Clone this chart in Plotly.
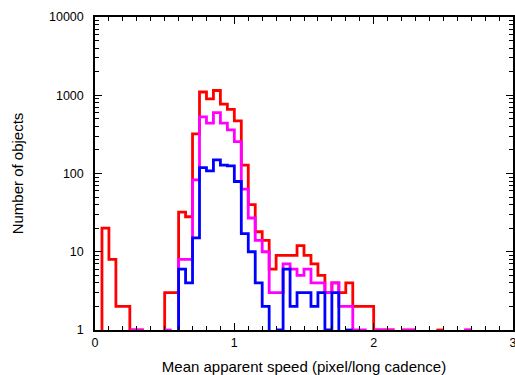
import plotly.graph_objects as go

# Histogram counts per 0.05-wide bin, starting at speed 0.0
bin_width = 0.05
red_counts = [0, 20, 8, 2, 2, 1, 1, 0, 0, 0,
              3, 3, 32, 28, 320, 1100, 900, 1150, 770, 660,
              470, 128, 40, 18, 14, 6, 9, 9, 9, 12,
              9, 7, 5, 3, 4, 3, 4, 2, 2, 2,
              1, 1, 1, 0, 1, 1, 0, 0, 0, 1,
              0, 0, 0, 1, 0]
magenta_counts = [0, 0, 0, 0, 0, 1, 1, 0, 0, 0,
                  1, 0, 8, 8, 83, 530, 440, 600, 440, 360,
                  255, 63, 27, 14, 10, 3, 3, 7, 6, 5,
                  6, 4, 4, 3, 4, 2, 2, 1, 1, 0,
                  1, 1, 1, 0, 1, 1, 0, 0, 0, 0,
                  0, 0, 0, 1, 0]
blue_counts = [0, 0, 0, 0, 0, 0, 0, 0, 0, 0,
               0, 0, 6, 4, 15, 119, 108, 149, 128, 125,
               79, 17, 10, 4, 2, 0, 1, 6, 2, 3,
               3, 2, 3, 1, 3, 0, 1, 0, 0, 0,
               0, 0, 0, 0, 0, 0, 0, 0, 0, 0,
               0, 0, 0, 0, 0]

y_tickvals = [1, 10, 100, 1000, 10000]
y_ticktext = ["1", "10", "100", "1000", "10000"]
x_tickvals = [0, 1, 2, 3]
x_ticktext = ["0", "1", "2", "3"]

series = [("red", red_counts, "#ff0000"),
          ("magenta", magenta_counts, "#ff00ff"),
          ("blue", blue_counts, "#0000ff")]


def step_path(counts, width):
    xs, ys = [], []
    prev = 0
    for k, c in enumerate(counts):
        left, right = k * width, (k + 1) * width
        if c > 0:
            if prev == 0:
                xs.append(left); ys.append(1)
            xs += [left, right]; ys += [c, c]
        else:
            if prev > 0:
                xs += [left, None]; ys += [1, None]
        prev = c
    if prev > 0:
        xs.append(len(counts) * width); ys.append(1)
    return xs, ys


fig = go.Figure()
for name, counts, color in series:
    xs, ys = step_path(counts, bin_width)
    fig.add_trace(go.Scatter(x=xs, y=ys, mode="lines", name=name,
                             line=dict(color=color, width=2.8),
                             connectgaps=False, hoverinfo="skip"))

minor_y = [m * 10 ** e for e in range(4) for m in range(2, 10)]

fig.update_layout(
    width=515, height=375,
    margin=dict(l=95, r=2, t=17, b=45),
    plot_bgcolor="white", paper_bgcolor="white",
    showlegend=False,
    font=dict(family="Liberation Sans, Arial, sans-serif", size=12.5, color="black"),
)
fig.update_xaxes(
    range=[0, 3], tickvals=x_tickvals, ticktext=x_ticktext,
    ticks="inside", ticklen=7, tickwidth=1, tickcolor="black",
    showline=True, linecolor="black", linewidth=1.5, mirror="ticks",
    showgrid=False, zeroline=False, automargin=False,
    ticklabeloverflow="allow",
    minor=dict(dtick=0.1, ticks="inside", ticklen=4, tickcolor="black", showgrid=False),
    title=dict(text="Mean apparent speed (pixel/long cadence)", standoff=13),
)
fig.update_yaxes(
    type="log", range=[0, 4], tickvals=y_tickvals, ticktext=y_ticktext,
    ticks="inside", ticklen=7, tickwidth=1, tickcolor="black",
    showline=True, linecolor="black", linewidth=1.5, mirror="ticks",
    showgrid=False, zeroline=False, automargin=False,
    ticklabelstandoff=7,
    minor=dict(tickvals=minor_y, ticks="inside", ticklen=4, tickcolor="black", showgrid=False),
    title=dict(text="Number of objects", standoff=22),
)

fig.write_html("out.html")
